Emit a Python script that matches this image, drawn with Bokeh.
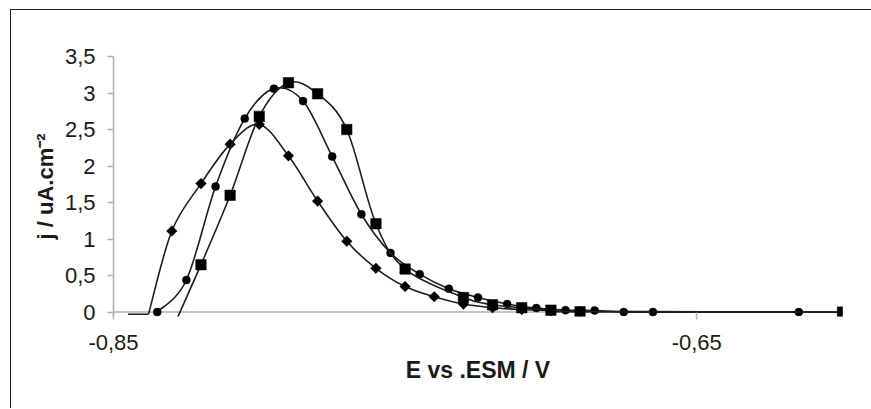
import math
from bokeh.plotting import figure
from bokeh.models import Range1d, FixedTicker, CustomJSTickFormatter, Span, ColumnDataSource
from bokeh.embed import file_html
from bokeh.resources import INLINE

# ---- data (E in V vs ESM, j in uA.cm-2) ----
E_diamond = [-0.845, -0.838, -0.83, -0.82, -0.81, -0.80, -0.79, -0.78, -0.77, -0.76,
             -0.75, -0.74, -0.73, -0.72, -0.71, -0.70, -0.69, -0.60]
j_diamond = [-0.03, -0.03, 1.11, 1.76, 2.30, 2.57, 2.14, 1.52, 0.97, 0.60,
             0.35, 0.21, 0.11, 0.06, 0.035, 0.02, 0.01, 0.0]

E_circle = [-0.835, -0.825, -0.815, -0.805, -0.795, -0.785, -0.775, -0.765, -0.755, -0.745,
            -0.735, -0.725, -0.715, -0.705, -0.695, -0.685, -0.675, -0.665, -0.615]
j_circle = [0.0, 0.44, 1.72, 2.65, 3.06, 2.89, 2.13, 1.34, 0.81, 0.52,
            0.32, 0.20, 0.11, 0.055, 0.027, 0.023, 0.0, 0.0, 0.0]

E_square = [-0.83, -0.82, -0.81, -0.80, -0.79, -0.78, -0.77, -0.76, -0.75,
            -0.73, -0.72, -0.71, -0.70, -0.69, -0.60]
j_square = [-0.25, 0.65, 1.60, 2.68, 3.14, 2.99, 2.50, 1.21, 0.59,
            0.20, 0.10, 0.06, 0.027, 0.005, 0.0]

x_ticks = [-0.85, -0.65]
x_tick_labels = ["-0,85", "-0,65"]
y_ticks = [0, 0.5, 1, 1.5, 2, 2.5, 3, 3.5]
y_tick_labels = ["0", "0,5", "1", "1,5", "2", "2,5", "3", "3,5"]

x_title = "E vs .ESM / V"
y_title = "j / uA.cm\u207b\u00b2"

FONT = "Liberation Sans"
LINE_COLOR = "#1e1e1e"

p = figure(width=861, height=399, output_backend="svg", toolbar_location=None,
           x_range=Range1d(-0.85, -0.60), y_range=Range1d(-0.06, 3.5),
           min_border_left=102, min_border_right=30, min_border_top=46, min_border_bottom=93)
p.margin = (9, 0, 0, 10)
p.styles = {"border-left": "1px solid #222", "border-top": "1px solid #222"}
p.outline_line_color = None
p.grid.visible = False
p.background_fill_color = "white"
p.border_fill_color = "white"

fmt_code = """
let best = 0, bd = 1e9;
for (let i = 0; i < tv.length; i++) {
  const d = Math.abs(tv[i] - tick);
  if (d < bd) { bd = d; best = i; }
}
return lb[best];
"""
p.xaxis.ticker = FixedTicker(ticks=x_ticks)
p.xaxis.formatter = CustomJSTickFormatter(args=dict(tv=x_ticks, lb=x_tick_labels), code=fmt_code)
p.yaxis.ticker = FixedTicker(ticks=y_ticks)
p.yaxis.formatter = CustomJSTickFormatter(args=dict(tv=y_ticks, lb=y_tick_labels), code=fmt_code)

for ax in (p.xaxis[0], p.yaxis[0]):
    ax.major_label_text_font = FONT
    ax.major_label_text_font_size = "22px"
    ax.major_label_text_color = "#1a1a1a"
    ax.axis_label_text_font = FONT
    ax.axis_label_text_font_style = "bold"
    ax.axis_label_text_color = "#1a1a1a"
    ax.minor_tick_line_color = None
    ax.major_tick_line_color = "#b3b3b3"
    ax.major_tick_line_width = 1.5

p.xaxis.axis_label = x_title
p.xaxis.axis_label_text_font_size = "23px"
p.xaxis.axis_line_color = None
p.xaxis.major_tick_out = 3
p.xaxis.major_tick_in = 4
p.xaxis.major_label_standoff = 15
p.xaxis.axis_label_standoff = 4

p.yaxis.axis_label = y_title
p.yaxis.axis_label_text_font_size = "22px"
p.yaxis.axis_line_color = "#b3b3b3"
p.yaxis.axis_line_width = 1.5
p.yaxis.major_tick_out = 6
p.yaxis.major_tick_in = 0
p.yaxis.major_label_standoff = 12
p.yaxis.axis_label_standoff = 4

zero = Span(location=0, dimension="width", line_color="#b3b3b3", line_width=1.5, level="underlay")
p.add_layout(zero)


def smooth(xs, ys, corners=()):
    # split the series at corner indices, then smooth each piece
    cuts = [0] + list(corners) + [len(xs) - 1]
    d = dict(x0=[], y0=[], x1=[], y1=[], cx0=[], cy0=[], cx1=[], cy1=[])
    for a, b in zip(cuts[:-1], cuts[1:]):
        px, py = xs[a:b + 1], ys[a:b + 1]
        n = len(px)
        for i in range(n - 1):
            i0 = max(i - 1, 0)
            i3 = min(i + 2, n - 1)
            d["x0"].append(px[i]); d["y0"].append(py[i])
            d["x1"].append(px[i + 1]); d["y1"].append(py[i + 1])
            d["cx0"].append(px[i] + (px[i + 1] - px[i0]) / 6.0)
            d["cy0"].append(py[i] + (py[i + 1] - py[i0]) / 6.0)
            d["cx1"].append(px[i + 1] - (px[i3] - px[i]) / 6.0)
            d["cy1"].append(py[i + 1] - (py[i3] - py[i]) / 6.0)
    return ColumnDataSource(d)


def visible(xs, ys):
    pts = [(x, y) for x, y in zip(xs, ys) if y >= 0]
    return ColumnDataSource(dict(x=[a for a, _ in pts], y=[b for _, b in pts]))


series = [
    (E_diamond, j_diamond, "square", 7.5, math.pi / 4, (1,)),
    (E_circle, j_circle, "circle", 8, 0, ()),
    (E_square, j_square, "square", 10.5, 0, ()),
]
for xs, ys, marker, size, ang, corners in series:
    p.bezier(x0="x0", y0="y0", x1="x1", y1="y1", cx0="cx0", cy0="cy0", cx1="cx1", cy1="cy1",
             source=smooth(xs, ys, corners), line_color=LINE_COLOR, line_width=1.6)
    p.scatter(x="x", y="y", source=visible(xs, ys), marker=marker, size=size, angle=ang,
              fill_color="black", line_color="black", line_width=0.5)

open("out.html", "w").write(file_html(p, INLINE))
